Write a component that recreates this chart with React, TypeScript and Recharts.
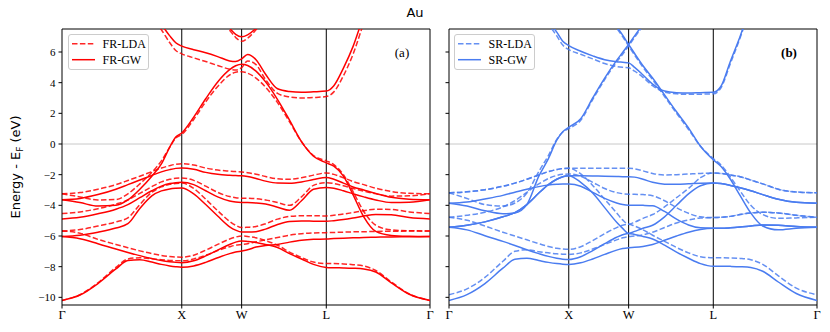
import React from "react";
import { LineChart, Line, XAxis, YAxis, ReferenceLine } from "recharts";

// k-path distances (2pi/a): G-X = 1, X-W = 0.5, W-L = 0.707, L-G = 0.866
const K = [
	0, 0.15, 0.3, 0.45, 0.55, 0.65, 0.75, 0.83, 0.9, 0.95,
	1.0, 1.1, 1.2, 1.3, 1.4, 1.45,
	1.5, 1.55, 1.62, 1.7, 1.8, 1.9, 2.0, 2.1,
	2.207, 2.27, 2.35, 2.43, 2.52, 2.62, 2.75, 2.9, 3.073
];
const K_TICKS = [0, 1, 1.5, 2.207, 3.073];
const K_LABELS = ["Γ", "X", "W", "L", "Γ"];
const E_TICKS = [-10, -8, -6, -4, -2, 0, 2, 4, 6];

// fully relativistic GW (solid, red)
const FR_GW = [
	[-10.2, -9.85, -9.1, -8.15, -7.6, -7.55, -7.7, -7.85, -7.95, -8.0,
		-8.03, -7.95, -7.72, -7.42, -7.15, -7.05,
		-6.98, -6.9, -6.72, -6.62, -6.55, -6.4, -6.28, -6.22,
		-6.2, -6.17, -6.14, -6.12, -6.1, -6.08, -6.06, -6.05, -6.04],
	[-6.04, -6.18, -6.5, -6.85, -7.07, -7.28, -7.47, -7.6, -7.68, -7.72,
		-7.74, -7.62, -7.3, -6.92, -6.55, -6.4,
		-6.33, -6.36, -6.42, -6.55, -6.75, -7.15, -7.5, -7.85,
		-8.05, -8.07, -8.08, -8.1, -8.15, -8.35, -9.05, -9.8, -10.2],
	[-6.04, -5.95, -5.75, -5.48, -5.2, -4.2, -3.38, -3.06, -2.93, -2.89,
		-2.87, -3.25, -3.95, -4.7, -5.4, -5.62,
		-5.74, -5.74, -5.72, -5.55, -5.25, -5.05, -5.02, -5.03,
		-5.04, -5.0, -4.93, -4.83, -4.7, -4.6, -4.62, -4.8, -4.89],
	[-4.89, -4.78, -4.55, -4.25, -3.95, -3.5, -3.05, -2.75, -2.58, -2.52,
		-2.5, -2.65, -3.05, -3.45, -3.72, -3.78,
		-3.81, -3.82, -3.85, -3.92, -4.12, -4.32, -3.7, -2.95,
		-2.83, -2.88, -3.05, -3.25, -3.45, -3.65, -3.82, -3.8, -3.64],
	[-3.64, -3.55, -3.3, -2.95, -2.65, -2.35, -2.05, -1.82, -1.67, -1.59,
		-1.56, -1.65, -1.85, -1.98, -2.04, -2.06,
		-2.07, -2.12, -2.25, -2.42, -2.55, -2.56, -2.48, -2.32,
		-2.18, -2.3, -2.55, -2.8, -3.0, -3.22, -3.48, -3.6, -3.64],
	[-3.64, -3.82, -4.05, -4.0, -3.65, -2.95, -2.1, -1.3, -0.2, 0.45,
		0.72, 1.75, 2.95, 4.05, 4.85, 5.1,
		5.2, 5.12, 4.75, 4.05, 2.9, 1.55, 0.15, -0.8,
		-1.23, -1.45, -2.1, -3.3, -4.75, -5.7, -5.96, -6.02, -6.04],
	[14, 13.5, 12.5, 11.5, 10.5, 9.6, 8.6, 7.8, 7.05, 6.6,
		6.38, 6.15, 5.95, 5.7, 5.42, 5.38,
		5.55, 5.84, 5.5, 4.55, 3.6, 3.42, 3.37, 3.4,
		3.45, 3.8, 4.95, 6.35, 8.4, 10.5, 12.5, 14, 14.5],
	[16, 16, 15.5, 15, 14, 13, 12, 11.5, 11, 10.7,
		10.5, 10, 9.3, 8.6, 7.55, 7.15,
		6.99, 7.12, 7.55, 8.3, 9.2, 10, 10.8, 11.5,
		12, 12.5, 13, 13.5, 14, 14.5, 15, 15.5, 16]
];

// fully relativistic LDA (dashed, red)
const FR_LDA = [
	[-10.2, -9.83, -9.05, -8.05, -7.5, -7.42, -7.48, -7.55, -7.59, -7.61,
		-7.62, -7.5, -7.25, -6.95, -6.7, -6.6,
		-6.55, -6.5, -6.38, -6.25, -6.1, -5.95, -5.85, -5.8,
		-5.78, -5.77, -5.75, -5.73, -5.72, -5.7, -5.69, -5.68, -5.67],
	[-5.67, -5.82, -6.22, -6.55, -6.76, -6.97, -7.15, -7.27, -7.34, -7.37,
		-7.38, -7.25, -6.92, -6.55, -6.2, -6.07,
		-6.0, -6.03, -6.12, -6.3, -6.6, -7.05, -7.4, -7.7,
		-7.8, -7.8, -7.82, -7.87, -7.95, -8.25, -9.0, -9.78, -10.2],
	[-5.67, -5.58, -5.35, -5.08, -4.82, -3.95, -3.15, -2.8, -2.63, -2.57,
		-2.55, -2.9, -3.6, -4.35, -5.05, -5.3,
		-5.45, -5.43, -5.38, -5.2, -4.9, -4.72, -4.68, -4.68,
		-4.69, -4.65, -4.57, -4.47, -4.35, -4.25, -4.27, -4.43, -4.54],
	[-4.54, -4.43, -4.22, -3.92, -3.65, -3.22, -2.78, -2.47, -2.3, -2.24,
		-2.22, -2.37, -2.75, -3.15, -3.43, -3.5,
		-3.53, -3.54, -3.57, -3.65, -3.82, -4.0, -3.45, -2.7,
		-2.52, -2.58, -2.72, -2.9, -3.08, -3.25, -3.4, -3.38, -3.25],
	[-3.25, -3.17, -2.95, -2.65, -2.38, -2.1, -1.8, -1.57, -1.41, -1.32,
		-1.28, -1.37, -1.57, -1.7, -1.77, -1.8,
		-1.82, -1.87, -1.97, -2.12, -2.27, -2.3, -2.2, -2.03,
		-1.89, -1.98, -2.2, -2.45, -2.65, -2.88, -3.1, -3.22, -3.25],
	[-3.25, -3.45, -3.65, -3.62, -3.25, -2.6, -1.85, -1.1, -0.2, 0.38,
		0.62, 1.6, 2.75, 3.75, 4.5, 4.68,
		4.72, 4.62, 4.3, 3.7, 2.7, 1.45, 0.15, -0.75,
		-1.1, -1.35, -2.0, -3.1, -4.4, -5.3, -5.6, -5.66, -5.67],
	[14, 13.5, 12.5, 11.5, 10.5, 9.4, 8.3, 7.45, 6.6, 6.1,
		5.88, 5.62, 5.38, 5.12, 4.88, 4.82,
		4.98, 5.42, 5.18, 4.2, 3.3, 3.07, 3.0, 3.03,
		3.1, 3.4, 4.45, 5.85, 7.9, 10, 12, 13.5, 14],
	[16, 16, 15.5, 15, 14, 13, 12, 11.5, 11, 10.7,
		10.5, 10, 9.2, 8.4, 7.42, 6.95,
		6.7, 6.9, 7.45, 8.2, 9.1, 10, 10.8, 11.5,
		12, 12.5, 13, 13.5, 14, 14.5, 15, 15.5, 16]
];

// scalar relativistic GW (solid, blue)
const SR_GW = [
	[-10.2, -9.82, -9.1, -8.1, -7.52, -7.45, -7.6, -7.72, -7.8, -7.84,
		-7.86, -7.75, -7.5, -7.2, -6.92, -6.82,
		-6.76, -6.74, -6.68, -6.55, -6.28, -6.0, -5.75, -5.57,
		-5.5, -5.5, -5.47, -5.42, -5.35, -5.28, -5.3, -5.38, -5.43],
	[-5.43, -5.6, -5.98, -6.35, -6.62, -6.9, -7.15, -7.33, -7.45, -7.51,
		-7.53, -7.35, -6.95, -6.5, -6.08, -5.92,
		-5.83, -5.9, -6.03, -6.2, -6.6, -7.05, -7.45, -7.8,
		-7.97, -7.97, -7.98, -8.0, -8.05, -8.3, -9.0, -9.75, -10.2],
	[-5.43, -5.3, -5.08, -4.75, -4.48, -3.95, -3.2, -2.65, -2.3, -2.13,
		-2.07, -2.5, -3.2, -4.15, -5.1, -5.5,
		-5.83, -5.7, -5.5, -5.3, -4.75, -4.0, -3.25, -2.72,
		-2.55, -2.58, -2.7, -2.85, -3.05, -3.3, -3.6, -3.8, -3.86],
	[-3.86, -3.78, -3.58, -3.35, -3.15, -2.95, -2.78, -2.68, -2.63, -2.61,
		-2.61, -2.75, -3.15, -3.55, -3.85, -3.95,
		-3.99, -3.99, -4.0, -4.03, -4.4, -4.9, -5.28, -5.47,
		-5.5, -5.5, -5.47, -5.42, -5.35, -5.28, -5.3, -5.38, -5.43],
	[-5.43, -5.3, -5.08, -4.75, -4.48, -3.95, -3.2, -2.65, -2.3, -2.13,
		-2.07, -2.07, -2.08, -2.1, -2.12, -2.13,
		-2.13, -2.16, -2.3, -2.5, -2.62, -2.63, -2.6, -2.56,
		-2.55, -2.58, -2.7, -2.85, -3.05, -3.3, -3.6, -3.8, -3.86],
	[-3.86, -4.05, -4.35, -4.55, -4.5, -3.95, -2.1, -0.95, 0.25, 0.8,
		1.09, 1.65, 3.0, 4.3, 5.45, 5.97,
		6.49, 7.05, 7.8, 8.6, 9.5, 10.3, 11, 11.5,
		12, 12.5, 13, 13.5, 14, 14.5, 15, 15.5, 16],
	[15, 14.5, 13.5, 12.5, 11.5, 10.5, 9.0, 8.0, 7.3, 6.7,
		6.42, 6.05, 5.75, 5.5, 5.37, 5.33,
		5.29, 5.0, 4.5, 3.9, 3.45, 3.35, 3.33, 3.35,
		3.37, 3.75, 5.4, 7.0, 9.0, 10.5, 12, 13.5, 15],
	[16, 16, 15.5, 15, 14.5, 14, 13, 12.5, 12, 11.5,
		11, 10.4, 9.6, 8.7, 7.65, 7.1,
		6.49, 5.9, 5.1, 4.3, 3.2, 2.1, 1.05, -0.15,
		-1.03, -1.45, -2.3, -3.35, -4.5, -5.35, -5.6, -5.5, -5.43]
];

// scalar relativistic LDA (dashed, blue)
const SR_LDA = [
	[-9.83, -9.45, -8.7, -7.65, -7.0, -6.9, -7.02, -7.1, -7.16, -7.19,
		-7.2, -7.1, -6.85, -6.55, -6.25, -6.12,
		-6.04, -6.0, -5.92, -5.75, -5.45, -5.15, -4.95, -4.83,
		-4.8, -4.78, -4.72, -4.6, -4.5, -4.45, -4.5, -4.65, -4.78],
	[-4.78, -4.97, -5.35, -5.75, -6.0, -6.25, -6.5, -6.68, -6.8, -6.85,
		-6.87, -6.7, -6.3, -5.85, -5.45, -5.3,
		-5.23, -5.35, -5.6, -5.95, -6.35, -6.75, -7.1, -7.35,
		-7.42, -7.42, -7.43, -7.46, -7.55, -7.85, -8.6, -9.4, -9.83],
	[-4.78, -4.65, -4.45, -4.1, -3.7, -3.15, -2.6, -2.25, -2.05, -1.98,
		-1.96, -2.1, -2.5, -2.9, -3.17, -3.24,
		-3.27, -3.28, -3.3, -3.37, -3.7, -4.15, -4.52, -4.75,
		-4.8, -4.78, -4.72, -4.6, -4.5, -4.45, -4.5, -4.65, -4.78],
	[-3.18, -3.12, -2.98, -2.75, -2.55, -2.3, -2.02, -1.8, -1.67, -1.6,
		-1.58, -1.95, -2.7, -3.6, -4.5, -4.95,
		-5.23, -5.1, -4.85, -4.6, -4.1, -3.5, -2.9, -2.2,
		-1.89, -1.92, -2.02, -2.13, -2.35, -2.6, -2.95, -3.13, -3.18],
	[-3.18, -3.12, -2.98, -2.75, -2.55, -2.3, -2.02, -1.8, -1.67, -1.6,
		-1.58, -1.58, -1.58, -1.58, -1.58, -1.58,
		-1.58, -1.62, -1.75, -1.92, -2.02, -2.0, -1.96, -1.92,
		-1.89, -1.92, -2.02, -2.13, -2.35, -2.6, -2.95, -3.13, -3.18],
	[-3.18, -3.55, -3.95, -4.05, -3.85, -3.2, -1.8, -0.75, 0.3, 0.78,
		1.0, 1.55, 2.9, 4.2, 5.35, 5.85,
		6.4, 6.95, 7.7, 8.5, 9.4, 10.2, 11, 11.5,
		12, 12.5, 13, 13.5, 14, 14.5, 15, 15.5, 16],
	[15, 14.5, 13.5, 12.5, 11.5, 10.3, 8.7, 7.8, 7.05, 6.45,
		6.16, 5.85, 5.55, 5.25, 5.05, 5.0,
		4.97, 4.75, 4.35, 3.8, 3.38, 3.27, 3.24, 3.25,
		3.27, 3.65, 5.25, 6.9, 8.9, 10.5, 12, 13.5, 15],
	[16, 16, 15.5, 15, 14.5, 14, 13, 12.5, 12, 11.5,
		11, 10.4, 9.5, 8.6, 7.55, 7.0,
		6.4, 5.8, 5.0, 4.2, 3.1, 2.0, 0.95, -0.15,
		-0.95, -1.35, -2.15, -3.05, -4.0, -4.6, -4.85, -4.82, -4.78]
];

const RED = "#ff0000";
const BLUE = "#4a7cf0";
const SERIF = "'Liberation Serif', serif";
const SANS = "'DejaVu Sans', sans-serif";
const DASH = "5.5 2.4";

function buildTable(gw: number[][], lda: number[][]) {
	return K.map((k, i) => {
		const row: Record<string, number> = { k };
		gw.forEach((b, j) => (row["gw" + j] = b[i]));
		lda.forEach((b, j) => (row["lda" + j] = b[i]));
		return row;
	});
}

const minus = (v: number) => (v < 0 ? "\u2212" + -v : String(v));

interface PanelProps {
	gw: number[][];
	lda: number[][];
	color: string;
	width: number;
	left: number;
	right: number;
	yWidth: number;
	yLabels: boolean;
}

function Panel(props: PanelProps) {
	const data = buildTable(props.gw, props.lda);
	return (
		<div style={{ position: "absolute", left: props.left, top: 0 }}>
			<LineChart
				width={props.width}
				height={332}
				data={data}
				margin={{ top: 29, right: props.right, left: 0, bottom: 0 }}
			>
				<XAxis
					dataKey="k"
					type="number"
					domain={[0, 3.073]}
					ticks={K_TICKS}
					interval={0}
					allowDataOverflow
					height={27}
					tickSize={3.5}
					tickMargin={2}
					stroke="#000"
					tick={{ fill: "#000", fontSize: 12.5, fontFamily: SERIF }}
					tickFormatter={(v: number) => K_LABELS[K_TICKS.indexOf(v)]}
				/>
				<YAxis
					type="number"
					domain={[-10.5, 7.5]}
					ticks={E_TICKS}
					interval={0}
					allowDataOverflow
					width={props.yWidth}
					tickSize={3.5}
					tickMargin={3}
					stroke="#000"
					tick={{ fill: "#000", fontSize: 11, fontFamily: SERIF }}
					tickFormatter={(v: number) => (props.yLabels ? minus(v) : "")}
				/>
				<ReferenceLine y={0} stroke="#c8c8c8" strokeWidth={1} />
				{K_TICKS.slice(1, 4).map((x) => (
					<ReferenceLine key={x} x={x} stroke="#000" strokeWidth={1} />
				))}
				<ReferenceLine x={3.073} stroke="#000" strokeWidth={1} />
				<ReferenceLine y={7.5} stroke="#000" strokeWidth={1} />
				{props.lda.map((_, j) => (
					<Line
						key={"lda" + j}
						dataKey={"lda" + j}
						type="monotone"
						stroke={props.color}
						strokeWidth={1.5}
						strokeDasharray={DASH}
						strokeOpacity={0.85}
						dot={false}
						isAnimationActive={false}
					/>
				))}
				{props.gw.map((_, j) => (
					<Line
						key={"gw" + j}
						dataKey={"gw" + j}
						type="monotone"
						stroke={props.color}
						strokeWidth={1.5}
						dot={false}
						isAnimationActive={false}
					/>
				))}
			</LineChart>
		</div>
	);
}

function LegendBox(props: { x: number; color: string; labels: string[] }) {
	const x = props.x;
	return (
		<g>
			<rect x={x + 0.5} y={34.5} width={80} height={35} rx={2.5}
				fill="#fff" fillOpacity={0.8} stroke="#cccccc" strokeWidth={1} />
			<line x1={x + 4} x2={x + 27} y1={43.8} y2={43.8} stroke={props.color}
				strokeWidth={1.5} strokeDasharray={DASH} strokeOpacity={0.85} />
			<line x1={x + 4} x2={x + 27} y1={59.7} y2={59.7} stroke={props.color} strokeWidth={1.5} />
			<text x={x + 34.5} y={47.9} fontSize={12} fontFamily={SERIF} fill="#000">{props.labels[0]}</text>
			<text x={x + 34.5} y={63.8} fontSize={12} fontFamily={SERIF} fill="#000">{props.labels[1]}</text>
		</g>
	);
}

export default function App() {
	return (
		<div style={{ position: "absolute", left: 0, top: 0, width: 830, height: 332, background: "#fff" }}>
			<Panel gw={FR_GW} lda={FR_LDA} color={RED} width={440} left={0} right={10} yWidth={62} yLabels={true} />
			<Panel gw={SR_GW} lda={SR_LDA} color={BLUE} width={390} left={440} right={13} yWidth={9} yLabels={false} />
			<svg width={830} height={332} style={{ position: "absolute", left: 0, top: 0, pointerEvents: "none" }}>
				<text x={415} y={16.8} textAnchor="middle" fontSize={13} fontFamily={SANS} fill="#000">Au</text>
				<text transform="translate(19.5,167) rotate(-90)" textAnchor="middle" fontSize={13} fontFamily={SANS} fill="#000">
					Energy - E<tspan fontSize={9} dy={3}>F</tspan><tspan dy={-3}> (eV)</tspan>
				</text>
				<LegendBox x={68} color={RED} labels={["FR-LDA", "FR-GW"]} />
				<LegendBox x={454} color={BLUE} labels={["SR-LDA", "SR-GW"]} />
				<text x={402} y={57} textAnchor="middle" fontSize={13} fontFamily={SERIF} fill="#000">(a)</text>
				<text x={789} y={57} textAnchor="middle" fontSize={13} fontWeight="bold" fontFamily={SERIF} fill="#000">(b)</text>
			</svg>
		</div>
	);
}
